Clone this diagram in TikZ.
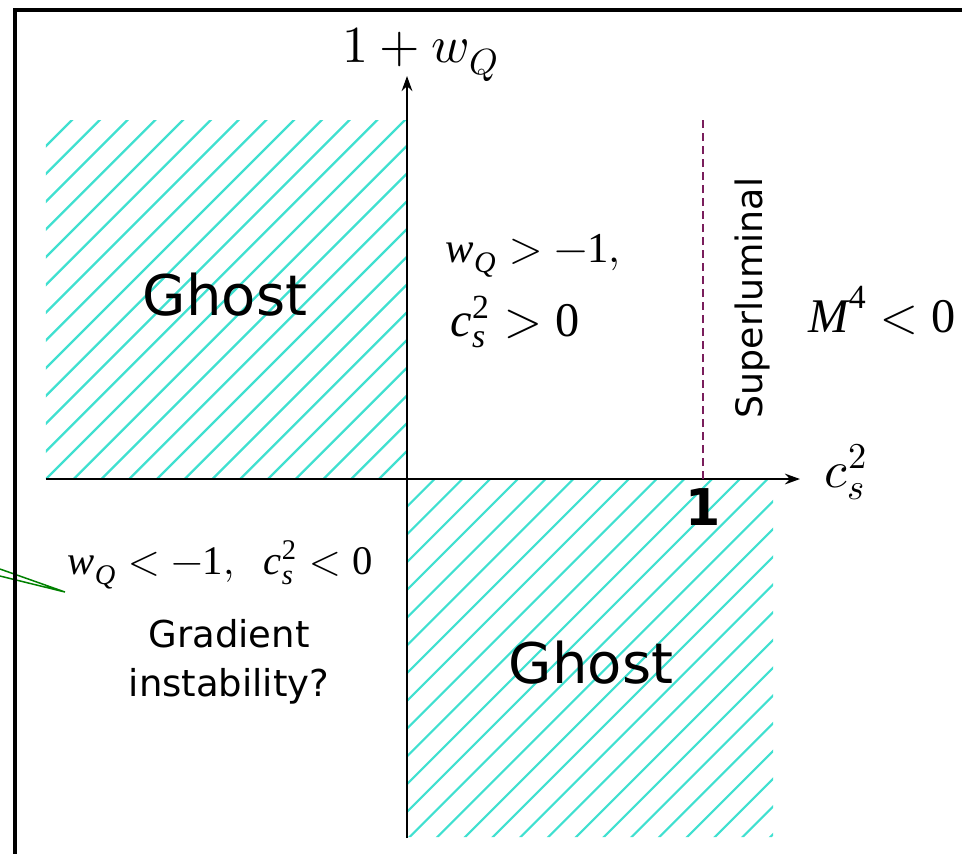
\documentclass[tikz,border=0pt]{standalone}
\usepackage{amsmath}
\usepackage{fontspec}
\usepackage{unicode-math}
\newfontfamily\dejavu{DejaVu Sans}
\newfontfamily\timesfnt{Liberation Serif}
\usetikzlibrary{arrows.meta}
\definecolor{hatchcol}{RGB}{64,224,208}
\definecolor{lumcol}{RGB}{122,30,92}
\definecolor{pointercol}{RGB}{0,128,0}
\newcommand{\tmi}[1]{\text{\timesfnt\itshape #1}}
\newcommand{\tmr}[1]{\text{\timesfnt #1}}

\begin{document}
\begin{tikzpicture}[x=0.3pt,y=0.3pt]

    \tikzset{
      hatch/.style={color=hatchcol, line width=0.65pt},
      axis/.style={color=black, line width=0.7pt, -{Stealth[length=4.5pt,width=3.2pt]}},
      lumline/.style={color=lumcol, line width=0.65pt, dash pattern=on 2.4pt off 1.5pt},
      pointer/.style={color=pointercol, line width=0.45pt},
      frame/.style={color=black, line width=1.2pt},
      ghostlab/.style={font=\dejavu\fontsize{16.8}{20}\selectfont, inner sep=0pt, anchor=base},
      notelab/.style={font=\dejavu\fontsize{11.1}{14.7}\selectfont, inner sep=0pt, align=center},
      eqlab/.style={inner sep=0pt, anchor=base west},
      axislab/.style={font=\fontsize{15.6}{18}\selectfont, inner sep=0pt},
    }
    \useasboundingbox (-407,-375) rectangle (555,479);

    % hatched quadrants
    \begin{scope}
    \clip (-361,0) rectangle (0,359) (1,-358) rectangle (366,0);
	\draw[hatch] (-694,0) ++(-360,-360) -- ++(720,720);
	\draw[hatch] (-666.25,0) ++(-360,-360) -- ++(720,720);
	\draw[hatch] (-638.5,0) ++(-360,-360) -- ++(720,720);
	\draw[hatch] (-610.75,0) ++(-360,-360) -- ++(720,720);
	\draw[hatch] (-583,0) ++(-360,-360) -- ++(720,720);
	\draw[hatch] (-555.25,0) ++(-360,-360) -- ++(720,720);
	\draw[hatch] (-527.5,0) ++(-360,-360) -- ++(720,720);
	\draw[hatch] (-499.75,0) ++(-360,-360) -- ++(720,720);
	\draw[hatch] (-472,0) ++(-360,-360) -- ++(720,720);
	\draw[hatch] (-444.25,0) ++(-360,-360) -- ++(720,720);
	\draw[hatch] (-416.5,0) ++(-360,-360) -- ++(720,720);
	\draw[hatch] (-388.75,0) ++(-360,-360) -- ++(720,720);
	\draw[hatch] (-361,0) ++(-360,-360) -- ++(720,720);
	\draw[hatch] (-333.25,0) ++(-360,-360) -- ++(720,720);
	\draw[hatch] (-305.5,0) ++(-360,-360) -- ++(720,720);
	\draw[hatch] (-277.75,0) ++(-360,-360) -- ++(720,720);
	\draw[hatch] (-250,0) ++(-360,-360) -- ++(720,720);
	\draw[hatch] (-222.25,0) ++(-360,-360) -- ++(720,720);
	\draw[hatch] (-194.5,0) ++(-360,-360) -- ++(720,720);
	\draw[hatch] (-166.75,0) ++(-360,-360) -- ++(720,720);
	\draw[hatch] (-139,0) ++(-360,-360) -- ++(720,720);
	\draw[hatch] (-111.25,0) ++(-360,-360) -- ++(720,720);
	\draw[hatch] (-83.5,0) ++(-360,-360) -- ++(720,720);
	\draw[hatch] (-55.75,0) ++(-360,-360) -- ++(720,720);
	\draw[hatch] (-28,0) ++(-360,-360) -- ++(720,720);
	\draw[hatch] (-0.25,0) ++(-360,-360) -- ++(720,720);
	\draw[hatch] (27.5,0) ++(-360,-360) -- ++(720,720);
	\draw[hatch] (55.25,0) ++(-360,-360) -- ++(720,720);
	\draw[hatch] (83,0) ++(-360,-360) -- ++(720,720);
	\draw[hatch] (110.75,0) ++(-360,-360) -- ++(720,720);
	\draw[hatch] (138.5,0) ++(-360,-360) -- ++(720,720);
	\draw[hatch] (166.25,0) ++(-360,-360) -- ++(720,720);
	\draw[hatch] (194,0) ++(-360,-360) -- ++(720,720);
	\draw[hatch] (221.75,0) ++(-360,-360) -- ++(720,720);
	\draw[hatch] (249.5,0) ++(-360,-360) -- ++(720,720);
	\draw[hatch] (277.25,0) ++(-360,-360) -- ++(720,720);
	\draw[hatch] (305,0) ++(-360,-360) -- ++(720,720);
	\draw[hatch] (332.75,0) ++(-360,-360) -- ++(720,720);
	\draw[hatch] (360.5,0) ++(-360,-360) -- ++(720,720);
	\draw[hatch] (388.25,0) ++(-360,-360) -- ++(720,720);
	\draw[hatch] (416,0) ++(-360,-360) -- ++(720,720);
	\draw[hatch] (443.75,0) ++(-360,-360) -- ++(720,720);
	\draw[hatch] (471.5,0) ++(-360,-360) -- ++(720,720);
	\draw[hatch] (499.25,0) ++(-360,-360) -- ++(720,720);
	\draw[hatch] (527,0) ++(-360,-360) -- ++(720,720);
	\draw[hatch] (554.75,0) ++(-360,-360) -- ++(720,720);
	\draw[hatch] (582.5,0) ++(-360,-360) -- ++(720,720);
	\draw[hatch] (610.25,0) ++(-360,-360) -- ++(720,720);
	\draw[hatch] (638,0) ++(-360,-360) -- ++(720,720);
	\draw[hatch] (665.75,0) ++(-360,-360) -- ++(720,720);
	\draw[hatch] (693.5,0) ++(-360,-360) -- ++(720,720);
	\draw[hatch] (721.25,0) ++(-360,-360) -- ++(720,720);
    \end{scope}

    % green pointer coming in from the left
    \coordinate (tailA) at (-407,-90);
    \coordinate (tailB) at (-407,-97);
    \coordinate (tip) at (-342,-113);
    \draw[pointer] (tailA) -- (tip) -- (tailB);

    % frame
    \coordinate (frameR) at (555,469);
    \coordinate (frameC) at (-392,469);
    \coordinate (frameB) at (-392,-375);
    \draw[frame] (frameR) -- (frameC) -- (frameB);

    % axes
    \coordinate (xstart) at (-361,0);
    \coordinate (xtip) at (393,0);
    \coordinate (ystart) at (0,-359);
    \coordinate (ytip) at (0,403);
    \draw[axis] (xstart) -- (xtip);
    \draw[axis] (ystart) -- (ytip);
    \node[axislab, anchor=base] (ylab) at (14,417) {$1+w_Q$};
    \node[axislab, anchor=base west] (xlab) at (417,-8) {$c_s^2$};

    % c_s^2 = 1
    \coordinate (one) at (296,0);
    \coordinate (lumtop) at (296,362);
    \draw[lumline] (one) -- (lumtop);
    \node[font=\dejavu\bfseries\fontsize{15.2}{18}\selectfont, inner sep=0pt, anchor=north] (onelab) at (296,-9) {1};
    \node[font=\dejavu\fontsize{10.9}{13}\selectfont, inner sep=0pt, rotate=90] (superlum) at (345,181) {Superluminal};

    % region labels
    \node[ghostlab] (ghostA) at (-182,164) {Ghost};
    \node[ghostlab] (ghostB) at (184,-204) {Ghost};
    \node[notelab] (grad) at (-178,-183) {Gradient\\instability?};
    \node[eqlab, font=\fontsize{12.8}{15}\selectfont] (wpos) at (38,217) {$\tmi{w}_{\tmi{Q}} > -\tmr{1},$};
    \node[eqlab, font=\fontsize{14.5}{17}\selectfont] (cpos) at (43,143) {$\tmi{c}_{\tmi{s}}^{\tmr{2}} > \tmr{0}$};
    \node[eqlab, font=\fontsize{14.5}{17}\selectfont] (mneg) at (401,147) {$\tmi{M}^{\tmr{4}} < \tmr{0}$};
    \node[eqlab, font=\fontsize{12.2}{14}\selectfont] (wneg) at (-340,-95) {$\tmi{w}_{\tmi{Q}} < -\tmr{1},\;\; \tmi{c}_{\tmi{s}}^{\tmr{2}} < \tmr{0}$};

\end{tikzpicture}
\end{document}
